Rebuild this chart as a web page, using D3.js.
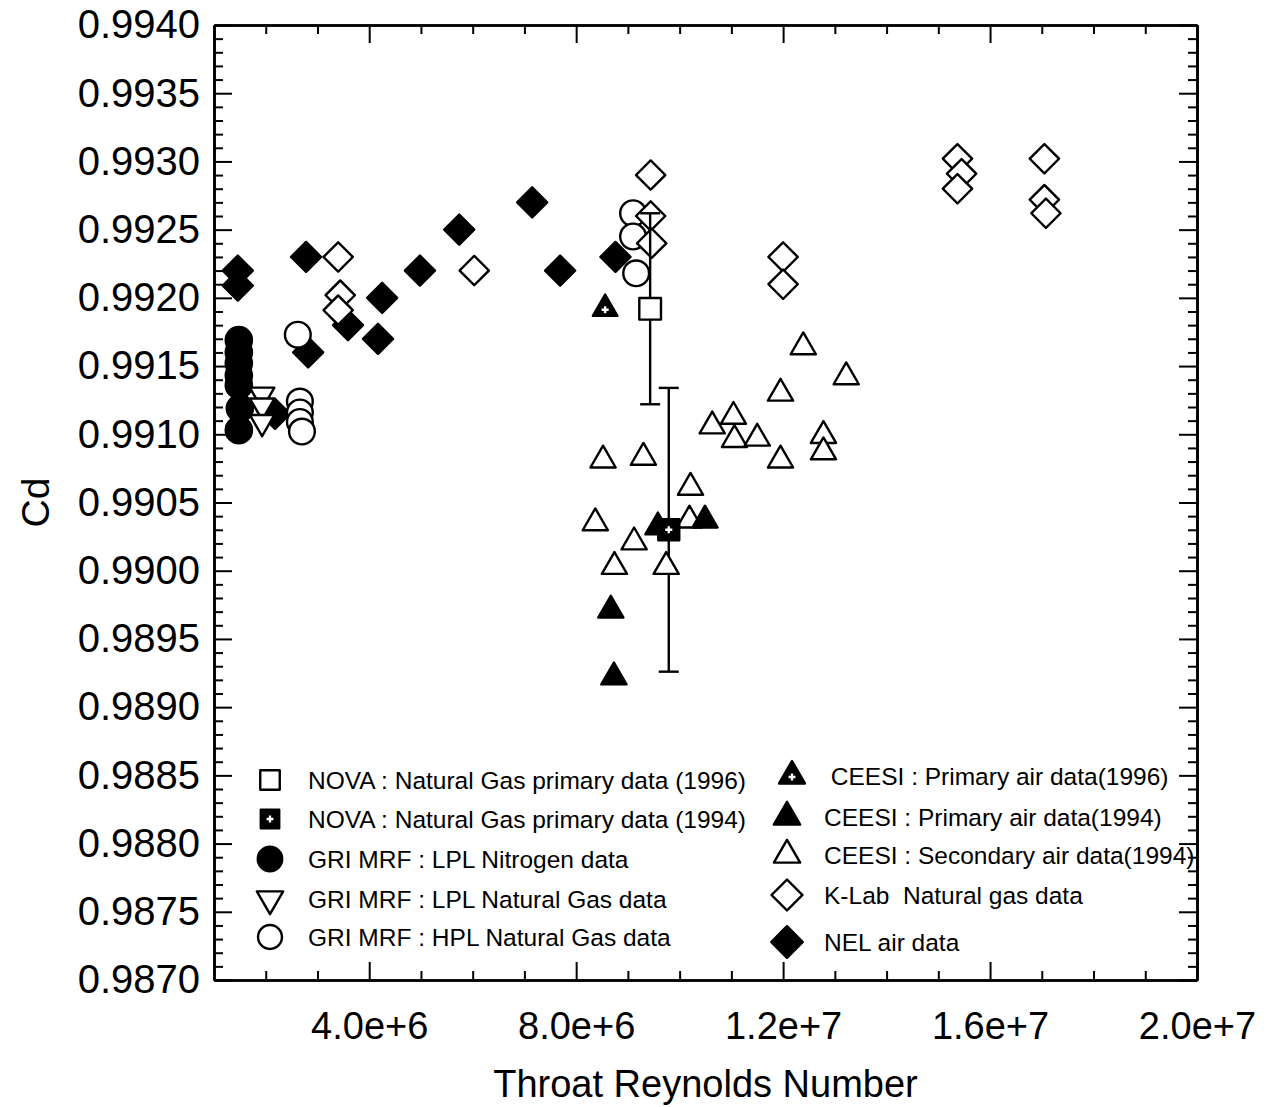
<!DOCTYPE html>
<html>
<head>
<meta charset="utf-8">
<script src="https://cdnjs.cloudflare.com/ajax/libs/d3/7.8.5/d3.min.js"></script>
<style>
  body { margin: 0; background: #fff; }
  svg { display: block; font-family: "Liberation Sans", Arial, sans-serif; }
</style>
</head>
<body>
<div id="chart"></div>
<script>
// Throat Reynolds number vs Cd

// NOVA : Natural Gas primary data (1996) - open square with error bar
const nova96X = [9.43e6];
const nova96Y = [0.99192];
const nova96Err = [0.0007];

// NOVA : Natural Gas primary data (1994) - filled square with error bar
const nova94X = [9.79e6];
const nova94Y = [0.9903];
const nova94Err = [0.00104];

// GRI MRF : LPL Nitrogen data
const lplN2X = [1.48e6, 1.48e6, 1.48e6, 1.48e6, 1.48e6, 1.5e6, 1.48e6];
const lplN2Y = [0.99169, 0.9916, 0.99152, 0.99143, 0.99136, 0.99119, 0.99103];

// GRI MRF : LPL Natural Gas data
const lplNgX = [1.93e6, 1.93e6, 1.93e6];
const lplNgY = [0.99129, 0.99121, 0.99109];

// GRI MRF : HPL Natural Gas data
const hplX = [2.62e6, 2.66e6, 2.66e6, 2.66e6, 2.7e6, 9.1e6, 9.1e6, 9.16e6];
const hplY = [0.99173, 0.99124, 0.99116, 0.99109, 0.99102, 0.99262, 0.99245, 0.99218];

// CEESI : Primary air data(1996)
const ceesi96X = [8.56e6];
const ceesi96Y = [0.99192];

// CEESI : Primary air data(1994)
const ceesi94X = [8.67e6, 8.73e6, 9.58e6, 10.49e6];
const ceesi94Y = [0.98971, 0.98922, 0.99032, 0.99037];

// CEESI : Secondary air data(1994)
const ceesiSecX = [8.52e6, 9.3e6, 12.39e6, 13.22e6, 11.95e6, 10.63e6, 11.04e6, 11.06e6, 11.5e6,
  11.95e6, 12.78e6, 12.78e6, 10.21e6, 8.37e6, 9.12e6, 10.19e6, 8.74e6, 9.74e6];
const ceesiSecY = [0.99081, 0.99083, 0.99164, 0.99142, 0.9913, 0.99106, 0.99113, 0.99096, 0.99097,
  0.99081, 0.99099, 0.99087, 0.99061, 0.99035, 0.99021, 0.99037, 0.99003, 0.99003];

// K-Lab Natural gas data
const klabX = [3.4e6, 3.44e6, 3.4e6, 6.03e6, 9.44e6, 9.44e6, 9.46e6, 12.0e6, 12.0e6,
  15.37e6, 15.45e6, 15.37e6, 17.05e6, 17.05e6, 17.08e6];
const klabY = [0.9923, 0.99202, 0.99191, 0.9922, 0.9929, 0.9926, 0.9924, 0.9923, 0.9921,
  0.99302, 0.99291, 0.9928, 0.99302, 0.99272, 0.99262];

// NEL air data
const nelX = [1.46e6, 1.46e6, 2.78e6, 2.82e6, 2.18e6, 3.59e6, 4.25e6, 4.17e6, 4.98e6,
  5.74e6, 7.15e6, 7.69e6, 8.76e6];
const nelY = [0.9922, 0.99209, 0.9923, 0.9916, 0.99115, 0.9918, 0.992, 0.9917, 0.9922,
  0.9925, 0.9927, 0.9922, 0.9923];

// ticks
const xMajorTicks = [4e6, 8e6, 1.2e7, 1.6e7, 2e7];
const xMinorTicks = d3.range(2e6, 2e7, 1e6).filter((v) => v % 4e6 !== 0);
const yMajorTicks = d3.range(0, 15).map((i) => 0.987 + i * 0.0005);
const yMinorTicks = d3.range(1, 70).filter((i) => i % 5 !== 0).map((i) => 0.987 + i * 0.0001);

const legendLeft = [
  "NOVA : Natural Gas primary data (1996)",
  "NOVA : Natural Gas primary data (1994)",
  "GRI MRF : LPL Nitrogen data",
  "GRI MRF : LPL Natural Gas data",
  "GRI MRF : HPL Natural Gas data",
];
const legendRight = [
  " CEESI : Primary air data(1996)",
  "CEESI : Primary air data(1994)",
  "CEESI : Secondary air data(1994)",
  "K-Lab  Natural gas data",
  "NEL air data",
];

const W = 1267;
const H = 1107;
const box = { left: 214, right: 1197, top: 25, bottom: 980 };

const x = d3.scaleLinear().domain([1e6, 2e7]).range([box.left, box.right]);
const y = d3.scaleLinear().domain([0.987, 0.994]).range([box.bottom, box.top]);

const svg = d3
  .select("#chart")
  .append("svg")
  .attr("width", W)
  .attr("height", H);

// symbol paths
const shapes = {
  circle: (a) => d3.symbol(d3.symbolCircle, a)(),
  triangle: (a) => d3.symbol(d3.symbolTriangle, a)(),
  square: (a) => d3.symbol(d3.symbolSquare, a)(),
  cross: (a) => d3.symbol(d3.symbolCross, a)(),
};

const drawMarks = (xs, ys, opt) => {
  const g = svg.append("g");
  const pts = d3.zip(xs, ys);
  g.selectAll("path.mark")
    .data(pts)
    .join("path")
    .attr("class", "mark")
    .attr("transform", (d) => `translate(${x(d[0])},${y(d[1])}) rotate(${opt.rotate || 0})`)
    .attr("d", shapes[opt.shape](opt.size))
    .attr("fill", opt.filled ? "#000" : "#fff")
    .attr("stroke", "#000")
    .attr("stroke-width", 2.4)
    .attr("stroke-linejoin", "round");
  if (opt.plus) {
    g.selectAll("path.plus")
      .data(pts)
      .join("path")
      .attr("class", "plus")
      .attr("transform", (d) => `translate(${x(d[0])},${y(d[1]) + (opt.plusDy || 0)})`)
      .attr("d", shapes.cross(28))
      .attr("fill", "#fff");
  }
};

const drawErrorBars = (xs, ys, errs) => {
  const g = svg.append("g").attr("stroke", "#000").attr("stroke-width", 2.4);
  const rows = xs.map((v, i) => ({ x: v, y: ys[i], e: errs[i] }));
  g.selectAll("line.bar")
    .data(rows)
    .join("line")
    .attr("x1", (d) => x(d.x))
    .attr("x2", (d) => x(d.x))
    .attr("y1", (d) => y(d.y + d.e))
    .attr("y2", (d) => y(d.y - d.e));
  [1, -1].forEach((s) => {
    g.selectAll(`line.cap${s}`)
      .data(rows)
      .join("line")
      .attr("x1", (d) => x(d.x) - 10)
      .attr("x2", (d) => x(d.x) + 10)
      .attr("y1", (d) => y(d.y + s * d.e))
      .attr("y2", (d) => y(d.y + s * d.e));
  });
};

// marks, back to front
drawMarks(nelX, nelY, { shape: "square", size: 450, rotate: 45, filled: true });
drawMarks(lplN2X, lplN2Y, { shape: "circle", size: 540, filled: true });
drawMarks(lplNgX, lplNgY, { shape: "triangle", size: 260, rotate: 180 });
drawMarks(hplX, hplY, { shape: "circle", size: 520 });
drawMarks(klabX, klabY, { shape: "square", size: 430, rotate: 45 });
drawErrorBars(nova96X, nova96Y, nova96Err);
drawErrorBars(nova94X, nova94Y, nova94Err);
drawMarks(ceesiSecX, ceesiSecY, { shape: "triangle", size: 275 });
drawMarks(ceesi94X, ceesi94Y, { shape: "triangle", size: 275, filled: true });
drawMarks(nova96X, nova96Y, { shape: "square", size: 470 });
drawMarks(nova94X, nova94Y, { shape: "square", size: 440, filled: true, plus: true });
drawMarks(ceesi96X, ceesi96Y, { shape: "triangle", size: 260, filled: true, plus: true, plusDy: 1 });

// axes: majors and minors on all four sides, ticks pointing inward
const styleAxis = (g) => {
  g.select(".domain").attr("stroke-width", 2.6);
  g.selectAll(".tick line").attr("stroke-width", 2);
};

svg.append("g")
  .attr("transform", `translate(${box.left},0)`)
  .call(d3.axisLeft(y).tickValues(yMajorTicks).tickSize(-18).tickSizeOuter(0)
    .tickPadding(14).tickFormat(d3.format(".4f")))
  .call(styleAxis)
  .call((g) => g.selectAll("text").attr("font-size", 40).attr("fill", "#000")
    .attr("font-family", "'Liberation Sans', Arial, sans-serif"));
svg.append("g")
  .attr("transform", `translate(${box.left},0)`)
  .call(d3.axisLeft(y).tickValues(yMinorTicks).tickSize(-9).tickSizeOuter(0).tickFormat(""))
  .call(styleAxis);

svg.append("g")
  .attr("transform", `translate(${box.right},0)`)
  .call(d3.axisRight(y).tickValues(yMajorTicks).tickSize(-18).tickSizeOuter(0).tickFormat(""))
  .call(styleAxis);
svg.append("g")
  .attr("transform", `translate(${box.right},0)`)
  .call(d3.axisRight(y).tickValues(yMinorTicks).tickSize(-9).tickSizeOuter(0).tickFormat(""))
  .call(styleAxis);

svg.append("g")
  .attr("transform", `translate(0,${box.bottom})`)
  .call(d3.axisBottom(x).tickValues(xMajorTicks).tickSize(-18).tickSizeOuter(0)
    .tickPadding(32).tickFormat(d3.format(".1e")))
  .call(styleAxis)
  .call((g) => g.selectAll("text").attr("font-size", 38).attr("fill", "#000")
    .attr("font-family", "'Liberation Sans', Arial, sans-serif"));
svg.append("g")
  .attr("transform", `translate(0,${box.bottom})`)
  .call(d3.axisBottom(x).tickValues(xMinorTicks).tickSize(-9).tickSizeOuter(0).tickFormat(""))
  .call(styleAxis);

svg.append("g")
  .attr("transform", `translate(0,${box.top})`)
  .call(d3.axisTop(x).tickValues(xMajorTicks).tickSize(-18).tickSizeOuter(0).tickFormat(""))
  .call(styleAxis);
svg.append("g")
  .attr("transform", `translate(0,${box.top})`)
  .call(d3.axisTop(x).tickValues(xMinorTicks).tickSize(-9).tickSizeOuter(0).tickFormat(""))
  .call(styleAxis);

// axis titles
svg.append("text")
  .attr("x", (box.left + box.right) / 2)
  .attr("y", 1097)
  .attr("text-anchor", "middle")
  .attr("font-size", 38)
  .text("Throat Reynolds Number");

svg.append("text")
  .attr("transform", `translate(49,${(box.top + box.bottom) / 2}) rotate(-90)`)
  .attr("text-anchor", "middle")
  .attr("font-size", 39)
  .text("Cd");

// legend
const legendSym = (cx, cy, opt) => {
  svg.append("path")
    .attr("transform", `translate(${cx},${cy}) rotate(${opt.rotate || 0})`)
    .attr("d", shapes[opt.shape](opt.size))
    .attr("fill", opt.filled ? "#000" : "#fff")
    .attr("stroke", "#000")
    .attr("stroke-width", 2.4)
    .attr("stroke-linejoin", "round");
  if (opt.plus) {
    svg.append("path")
      .attr("transform", `translate(${cx},${cy + (opt.plusDy || 0)})`)
      .attr("d", shapes.cross(26))
      .attr("fill", "#fff");
  }
};

const leftRowsY = [780, 819, 859, 899, 937];
const leftSyms = [
  { shape: "square", size: 380 },
  { shape: "square", size: 340, filled: true, plus: true },
  { shape: "circle", size: 470, filled: true },
  { shape: "triangle", size: 300, rotate: 180 },
  { shape: "circle", size: 450 },
];
legendLeft.forEach((t, i) => {
  legendSym(270, leftRowsY[i], leftSyms[i]);
  svg.append("text")
    .attr("x", 308)
    .attr("y", leftRowsY[i])
    .attr("dy", "0.35em")
    .attr("font-size", 24.5)
    .text(t);
});

const rightRowsY = [776, 817, 855, 895, 942];
const rightSyms = [
  { shape: "triangle", size: 290, filled: true, plus: true, plusDy: 1, cx: 792 },
  { shape: "triangle", size: 300, filled: true, cx: 787 },
  { shape: "triangle", size: 300, cx: 787 },
  { shape: "square", size: 480, rotate: 45, cx: 787 },
  { shape: "square", size: 500, rotate: 45, filled: true, cx: 787 },
];
legendRight.forEach((t, i) => {
  legendSym(rightSyms[i].cx, rightRowsY[i], rightSyms[i]);
  svg.append("text")
    .attr("x", 824)
    .attr("y", rightRowsY[i])
    .attr("dy", "0.35em")
    .attr("font-size", 24.5)
    .attr("xml:space", "preserve")
    .style("white-space", "pre")
    .text(t);
});
</script>
</body>
</html>
